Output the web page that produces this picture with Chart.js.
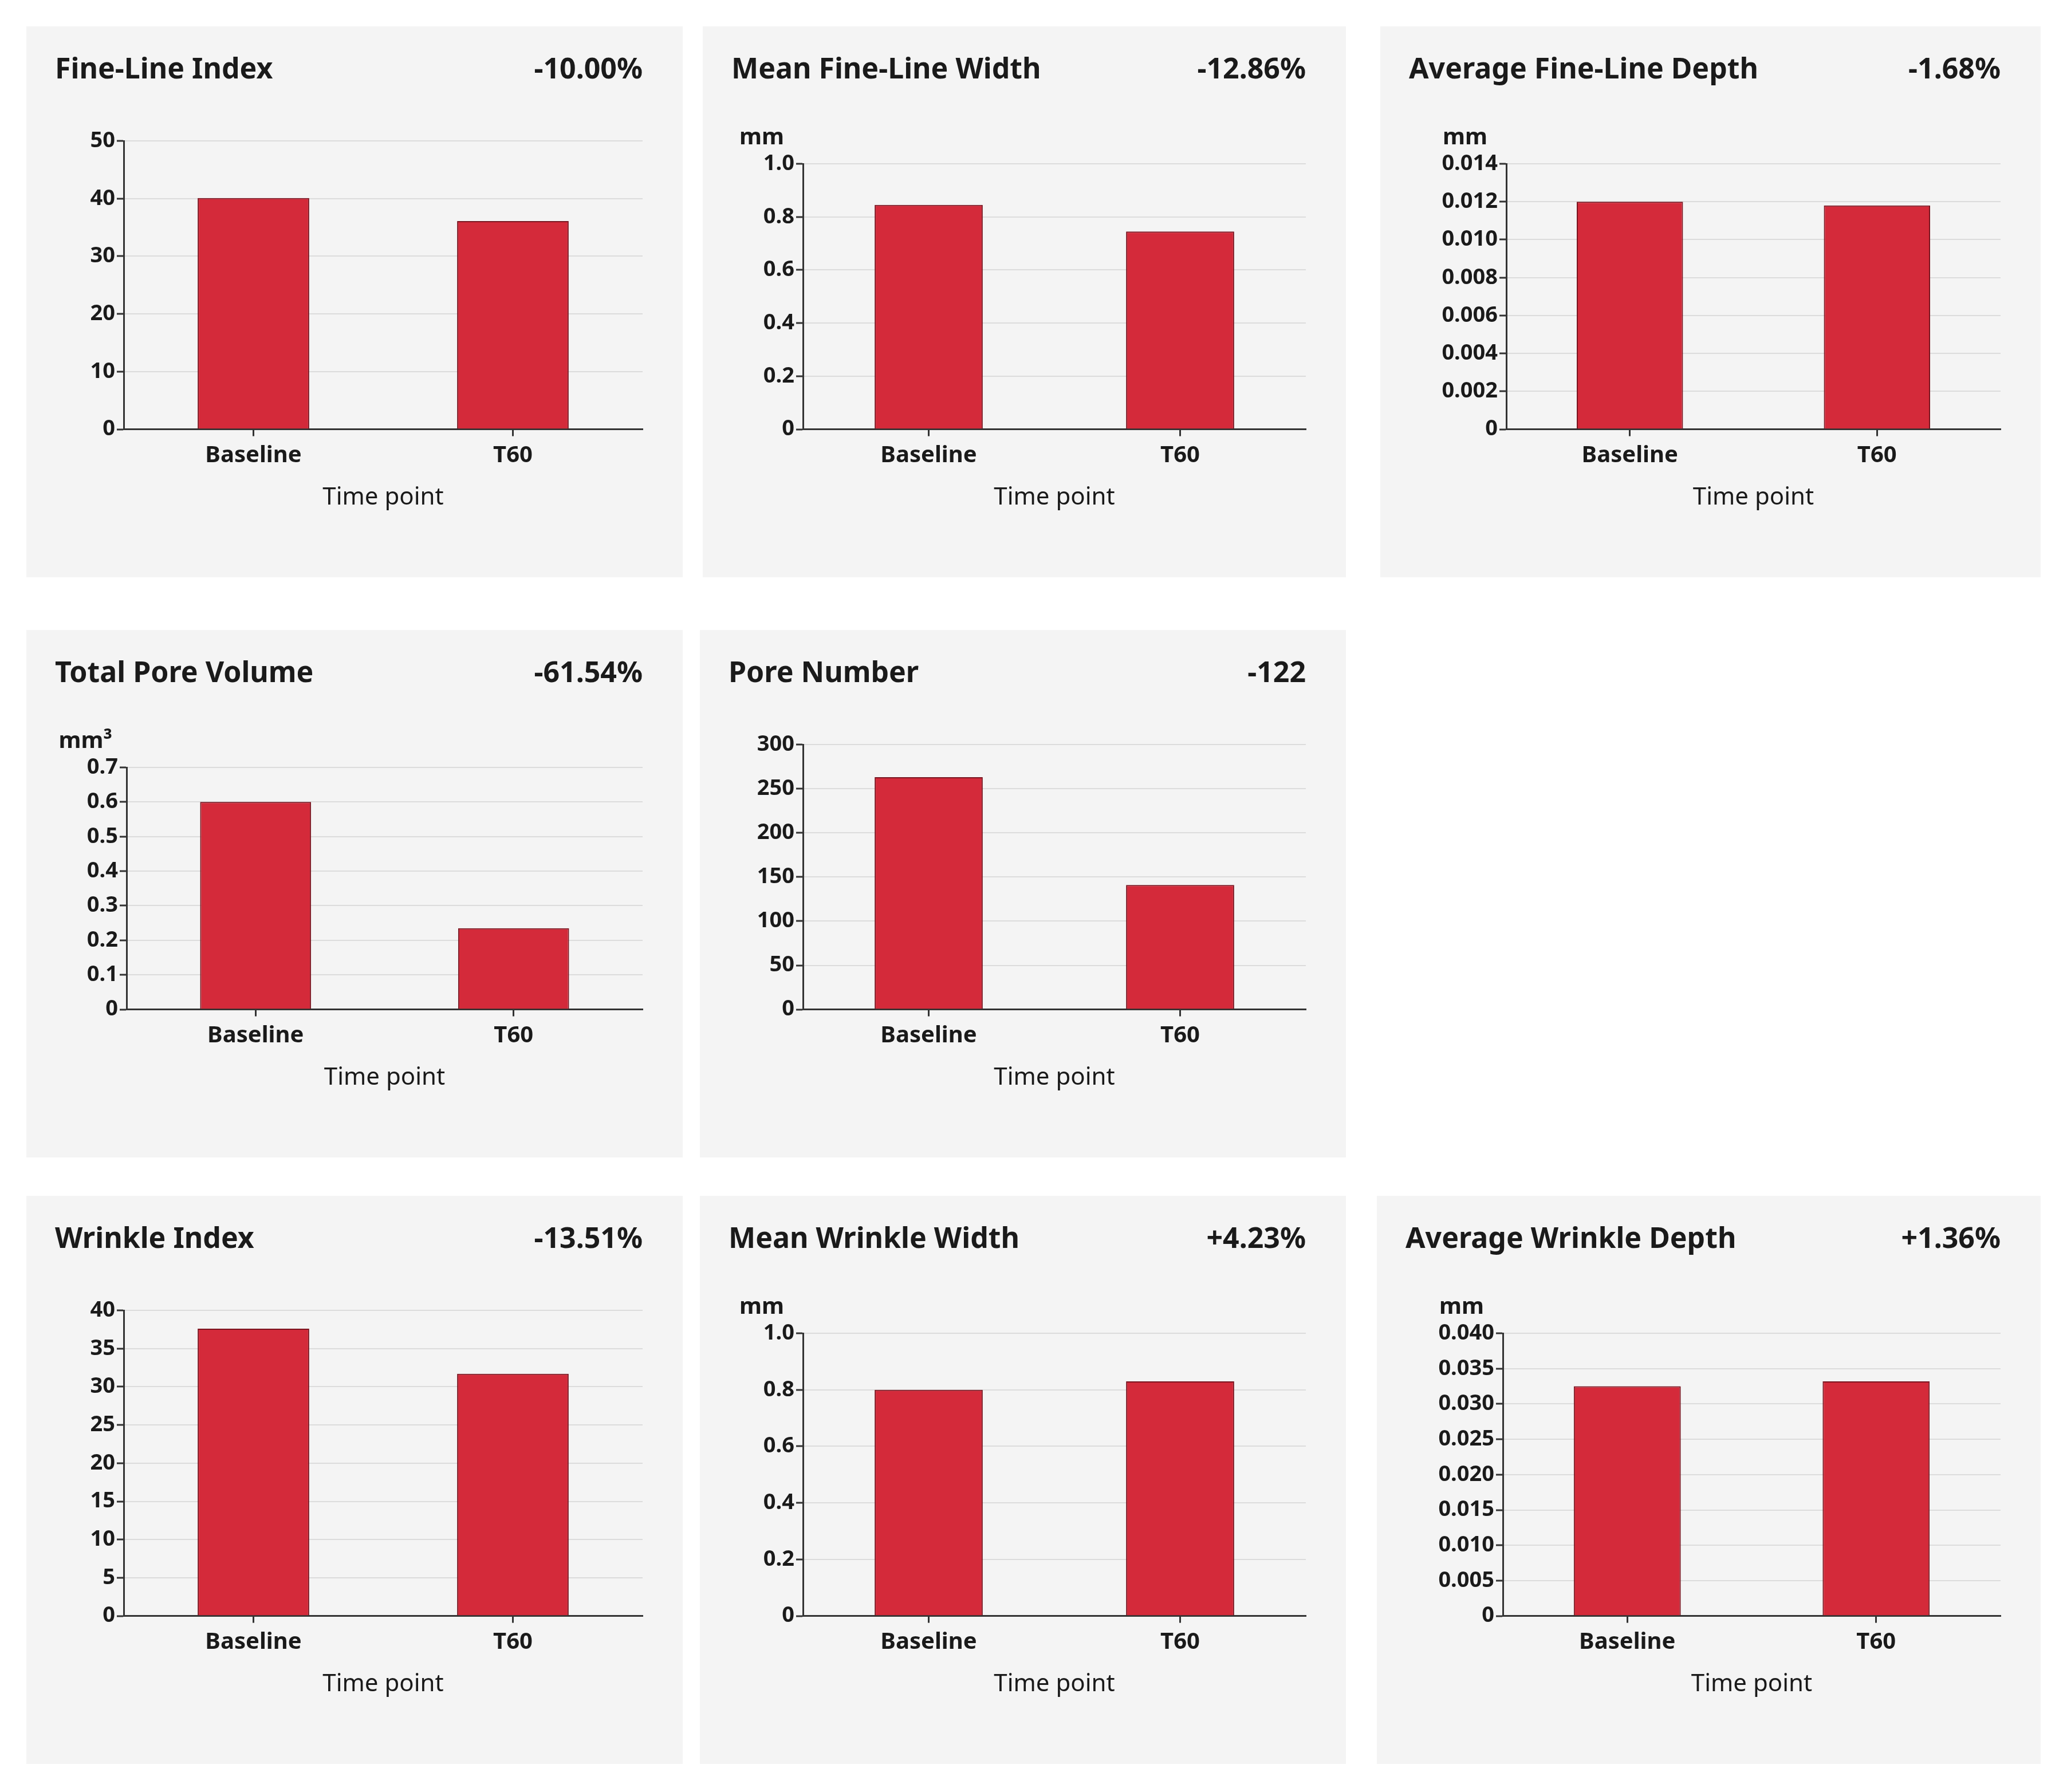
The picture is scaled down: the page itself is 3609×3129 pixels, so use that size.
<!DOCTYPE html>
<html>
<head>
<meta charset="utf-8">
<script src="https://cdn.jsdelivr.net/npm/chart.js@4"></script>
<style>
  body { margin: 0; background: #fff; width: 3609px; height: 3129px; position: relative; font-family: "Noto Sans", sans-serif; }
  .panel { position: absolute; background: #f4f4f4; }
  .title { position: absolute; left: 50px; top: 38px; font-size: 50px; font-weight: bold; color: #1a1a1a; }
  .delta { position: absolute; right: 70px; top: 38px; font-size: 50px; font-weight: bold; color: #1a1a1a; }
  .box { position: absolute; left: 20px; right: 50px; top: 170px; bottom: 110px; }
</style>
</head>
<body>
<script>
const charts = [
  { title: 'Fine-Line Index', delta: '-10.00%', unit: '', data: [40.1, 36.1], max: 50, step: 10, pos: [46, 46, 1146, 962], yw: 150 },
  { title: 'Mean Fine-Line Width', delta: '-12.86%', unit: 'mm', data: [0.845, 0.745], max: 1.0, step: 0.2, pos: [1227, 46, 1123, 962], dec: 1, yw: 155 },
  { title: 'Average Fine-Line Depth', delta: '-1.68%', unit: 'mm', data: [0.0120, 0.0118], max: 0.014, step: 0.002, pos: [2410, 46, 1153, 962], dec: 3, yw: 200 },
  { title: 'Total Pore Volume', delta: '-61.54%', unit: 'mm³', data: [0.60, 0.235], max: 0.7, step: 0.1, pos: [46, 1100, 1146, 921], dec: 1, yw: 155 },
  { title: 'Pore Number', delta: '-122', unit: '', data: [263, 141], max: 300, step: 50, pos: [1222, 1100, 1128, 921], yw: 160 },
  { title: 'Wrinkle Index', delta: '-13.51%', unit: '', data: [37.6, 31.7], max: 40, step: 5, pos: [46, 2088, 1146, 992], yw: 150 },
  { title: 'Mean Wrinkle Width', delta: '+4.23%', unit: 'mm', data: [0.80, 0.83], max: 1.0, step: 0.2, pos: [1222, 2088, 1128, 992], dec: 1, yw: 160 },
  { title: 'Average Wrinkle Depth', delta: '+1.36%', unit: 'mm', data: [0.0325, 0.0332], max: 0.04, step: 0.005, pos: [2404, 2088, 1159, 992], dec: 3, yw: 200 }
];

const unitLabel = {
  id: 'unitLabel',
  afterDraw(chart) {
    const u = chart.options.plugins.unitLabel.text;
    if (!u) return;
    const ctx = chart.ctx;
    ctx.save();
    ctx.font = 'bold 40px "Noto Sans"';
    ctx.fillStyle = '#1a1a1a';
    ctx.textAlign = 'center';
    ctx.textBaseline = 'bottom';
    ctx.fillText(u, chart.chartArea.left - 72, chart.chartArea.top - 25);
    ctx.restore();
  }
};

charts.forEach(function (c) {
  const p = document.createElement('div');
  p.className = 'panel';
  p.style.left = c.pos[0] + 'px'; p.style.top = c.pos[1] + 'px';
  p.style.width = c.pos[2] + 'px'; p.style.height = c.pos[3] + 'px';
  p.innerHTML = '<div class="title">' + c.title + '</div><div class="delta">' + c.delta +
    '</div><div class="box"><canvas></canvas></div>';
  document.body.appendChild(p);
  new Chart(p.querySelector('canvas'), {
    type: 'bar',
    data: {
      labels: ['Baseline', 'T60'],
      datasets: [{
        data: c.data,
        backgroundColor: '#d42a3a',
        borderColor: '#7a1520',
        borderWidth: 2,
        barPercentage: 0.43,
        categoryPercentage: 1
      }]
    },
    options: {
      responsive: true,
      maintainAspectRatio: false,
      animation: false,
      layout: { padding: { top: c.unit ? 70 : 30, right: 20 } },
      plugins: { legend: { display: false }, tooltip: { enabled: false }, unitLabel: { text: c.unit } },
      scales: {
        x: {
          grid: { drawOnChartArea: false, offset: false, tickLength: 12, tickColor: '#333', tickWidth: 3 },
          border: { color: '#333', width: 3 },
          ticks: { color: '#1a1a1a', padding: 10, font: { size: 40, weight: 'bold', family: 'Noto Sans' } },
          title: { display: true, text: 'Time point', color: '#1a1a1a', padding: { top: 14 }, font: { size: 42, family: 'Noto Sans' } }
        },
        y: {
          min: 0, max: c.max,
          afterFit: function (s) { s.width = c.yw; },
          grid: { color: '#dcdcdc', lineWidth: 2, tickLength: 12, tickColor: '#333', tickWidth: 3 },
          border: { color: '#333', width: 3 },
          ticks: {
            stepSize: c.step,
            color: '#1a1a1a',
            font: { size: 38, weight: 'bold', family: 'Noto Sans' },
            callback: function (v) { return v === 0 ? '0' : (c.dec ? v.toFixed(c.dec) : v); }
          }
        }
      }
    },
    plugins: [unitLabel]
  });
});
</script>
</body>
</html>
